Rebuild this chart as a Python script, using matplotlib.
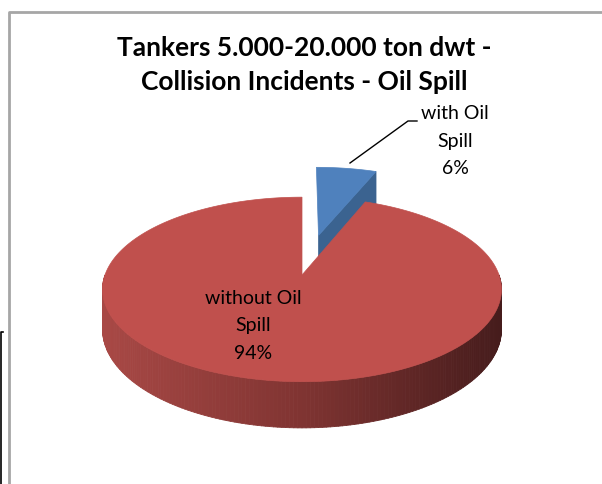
import numpy as np
import matplotlib
matplotlib.use('Agg')
import matplotlib.pyplot as plt
from matplotlib.patches import Polygon
from matplotlib.collections import PolyCollection
from matplotlib.lines import Line2D

plt.rcParams['font.family'] = ['Lato', 'DejaVu Sans']

# data
labels = ['with Oil\nSpill', 'without Oil\nSpill']
shares = [6, 94]
explode = [0.48, 0.0]
top_colors = ['#4F81BD', '#C0504D']
side_colors = ['#3B6390', None]

title = 'Tankers 5.000-20.000 ton dwt -\nCollision Incidents - Oil Spill'

# projection of the pie plane onto the page (pixel-like units)
cx, cy = 302, 275
sx, sy = 197, 90
depth = 6.4
thick = 39


def project(x, z, down=0.0):
    f = depth / (depth + z)
    return cx + x * f * sx, cy - z * f * sy + down * f


def arc(a0, a1, off, n=120, down=0.0):
    t = np.radians(np.linspace(a0, a1, n))
    ox, oz = off
    return [project(ox + np.sin(a), oz + np.cos(a), down) for a in t]


fig = plt.figure(figsize=(6.02, 4.84), dpi=100)
ax = fig.add_axes([0, 0, 1, 1])
ax.set_xlim(0, 602)
ax.set_ylim(484, 0)
ax.axis('off')

# slice angles, clockwise from 12 o'clock
fracs = np.array(shares) / sum(shares) * 360
starts = np.concatenate([[0], np.cumsum(fracs)[:-1]])
ends = starts + fracs
offsets = []
for s, e, d in zip(starts, ends, explode):
    mid = np.radians((s + e) / 2)
    offsets.append((d * np.sin(mid), d * np.cos(mid)))

# small slice (back): its cut face, then its top
s, e, off = starts[0], ends[0], offsets[0]
apex_t = project(*off)
apex_b = project(*off, down=thick)
rim_t = project(off[0] + np.sin(np.radians(e)), off[1] + np.cos(np.radians(e)))
rim_b = project(off[0] + np.sin(np.radians(e)), off[1] + np.cos(np.radians(e)), thick)
ax.add_patch(Polygon([apex_t, rim_t, rim_b, apex_b], closed=True,
                     fc=side_colors[0], ec=side_colors[0], lw=0.5))
ax.add_patch(Polygon([apex_t] + arc(s, e, off), closed=True,
                     fc=top_colors[0], ec=top_colors[0], lw=0.5))

# large slice: shaded outer wall along the front
s, e, off = starts[1], ends[1], offsets[1]
wall_a = np.linspace(90, 270, 181)
top_pts = arc(90, 270, off, n=181)
bot_pts = arc(90, 270, off, n=181, down=thick)
stops_x = [105, 300, 500]
stops_c = np.array([[168, 72, 69], [128, 52, 50], [70, 28, 28]]) / 255
quads, cols = [], []
for i in range(len(wall_a) - 1):
    q = [top_pts[i], top_pts[i + 1], bot_pts[i + 1], bot_pts[i]]
    mx = np.mean([p[0] for p in q])
    c = [np.interp(mx, stops_x, stops_c[:, k]) for k in range(3)]
    quads.append(q)
    cols.append(c)
ax.add_collection(PolyCollection(quads, facecolors=cols, edgecolors=cols, linewidths=0.6))

ax.add_patch(Polygon([project(*off)] + arc(s, e, off, n=400), closed=True,
                     fc=top_colors[1], ec=top_colors[1], lw=0.5))

# labels
lab_font = dict(fontsize=14, ha='center', va='center', linespacing=1.75)
ax.text(253, 326, f'{labels[1]}\n{shares[1]}%', **lab_font)
ax.text(455, 141, f'{labels[0]}\n{shares[0]}%', **lab_font)
ax.add_line(Line2D([350, 408, 417], [163, 121, 121], color='black', lw=1))

ax.text(304, 65, title, fontsize=19, fontweight='bold', ha='center', va='center',
        linespacing=1.5)

# chart frame
ax.add_line(Line2D([9, 9, 602], [484, 12, 12], color='#A6A6A6', lw=2))
ax.add_line(Line2D([3, 0.5, 0.5], [332, 332, 484], color='black', lw=1.2))

fig.savefig('out.png', dpi=100)
